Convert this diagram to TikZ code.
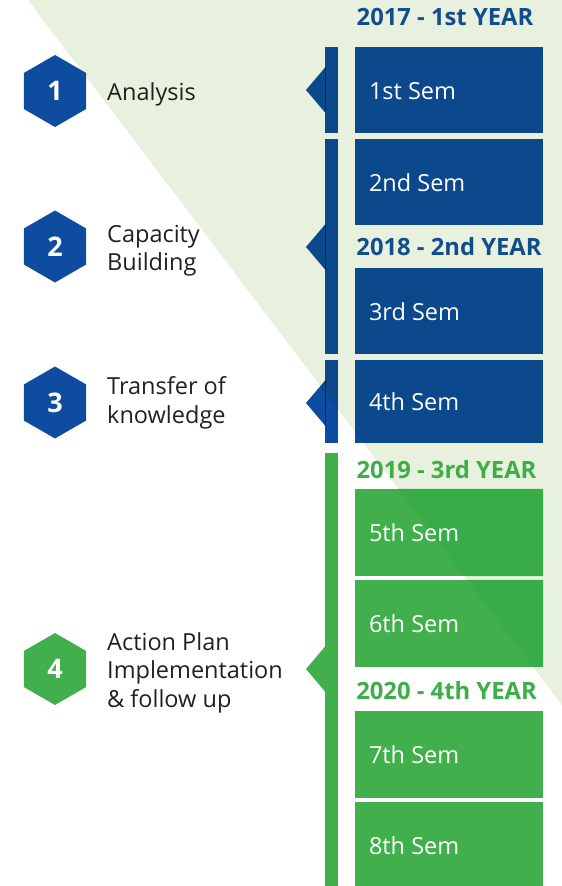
\documentclass[tikz,border=0pt]{standalone}
\usepackage{fontspec}
\setmainfont{Open Sans}
\usetikzlibrary{shapes.geometric}
\definecolor{tlblue}{RGB}{13,77,161}
\definecolor{hexblue}{RGB}{14,76,160}
\definecolor{tlgreen}{RGB}{64,175,76}
\definecolor{greendark}{RGB}{55,172,72}
\definecolor{yearblue}{RGB}{18,78,143}
\definecolor{yeargreen}{RGB}{62,174,73}
\definecolor{bglight}{RGB}{232,241,222}
\definecolor{txt}{RGB}{35,31,32}
\tikzset{
  hexa/.style={regular polygon, regular polygon sides=6, shape border rotate=30,
    minimum size=72pt, inner sep=0pt, text=white, font=\fontsize{27}{27}\selectfont\bfseries},
  lbl/.style={anchor=base west, inner sep=0pt, text=txt, align=left,
    font=\fontsize{23.5}{28.5}\selectfont},
  sembox/.style={rectangle, inner sep=0pt, minimum width=188pt},
  semtext/.style={anchor=base west, inner sep=0pt, text=white, font=\fontsize{23.5}{27}\selectfont},
  yeartext/.style={anchor=base, inner sep=0pt, font=\fontsize{23.8}{26}\selectfont\bfseries},
  barseg/.style={rectangle, inner sep=0pt, minimum width=13pt, anchor=north west}
}
\begin{document}
\begin{tikzpicture}[x=1pt,y=-1pt]
\useasboundingbox (0,0) rectangle (562,886);
\fill[bglight] (28,0) -- (562,0) -- (562,705) -- cycle;

\begin{scope}[blend mode=multiply]
% blue bars
\node[barseg, fill=tlblue, minimum height=86pt] (b1) at (325,47) {};
\node[barseg, fill=tlblue, minimum height=215pt] (b2) at (325,139) {};
\node[barseg, fill=tlblue, minimum height=83pt] (b3) at (325,360) {};
% blue pointers
\fill[tlblue] (306,90) -- (325.5,67) -- (325.5,113) -- cycle;
\fill[tlblue] (306,247) -- (325.5,224) -- (325.5,270) -- cycle;
\fill[tlblue] (306,403) -- (325.5,380) -- (325.5,426) -- cycle;
% blue semester boxes
\node[sembox, fill=tlblue, minimum height=86pt] (s1) at (449,90) {};
\node[sembox, fill=tlblue, minimum height=86pt] (s2) at (449,182) {};
\node[sembox, fill=tlblue, minimum height=86pt] (s3) at (449,311) {};
\node[sembox, fill=tlblue, minimum height=83pt] (s4) at (449,401.5) {};
\end{scope}

% green bar, pointer and boxes
\node[barseg, fill=tlgreen, minimum height=434pt] (b4) at (325,453) {};
\fill[tlgreen] (306,669) -- (325.5,646) -- (325.5,692) -- cycle;
\node[sembox, fill=tlgreen, minimum height=87pt] (s5) at (449,532.5) {};
\node[sembox, fill=tlgreen, minimum height=87pt] (s6) at (449,623.5) {};
\node[sembox, fill=tlgreen, minimum height=87pt] (s7) at (449,754.5) {};
\node[sembox, fill=tlgreen, minimum height=86pt] (s8) at (449,845) {};
\begin{scope}
\clip (s5.north west) rectangle (s5.south east) (s6.north west) rectangle (s6.south east);
\fill[greendark] (28,0) -- (562,0) -- (562,705) -- cycle;
\end{scope}

\node[semtext] (t1) at ([xshift=14pt,yshift=-9pt]s1.west) {1st Sem};
\node[semtext] (t2) at ([xshift=14pt,yshift=-9pt]s2.west) {2nd Sem};
\node[semtext] (t3) at ([xshift=14pt,yshift=-9pt]s3.west) {3rd Sem};
\node[semtext] (t4) at ([xshift=14pt,yshift=-9pt]s4.west) {4th Sem};
\node[semtext] (t5) at ([xshift=14pt,yshift=-9pt]s5.west) {5th Sem};
\node[semtext] (t6) at ([xshift=14pt,yshift=-9pt]s6.west) {6th Sem};
\node[semtext] (t7) at ([xshift=14pt,yshift=-9pt]s7.west) {7th Sem};
\node[semtext] (t8) at ([xshift=14pt,yshift=-9pt]s8.west) {8th Sem};

% year labels
\node[yeartext, text=yearblue] (y1) at (445,25) {2017 - 1st YEAR};
\node[yeartext, text=yearblue] (y2) at (449,255.5) {2018 - 2nd YEAR};
\node[yeartext, text=yeargreen] (y3) at (446.5,478) {2019 - 3rd YEAR};
\node[yeartext, text=yeargreen] (y4) at (446.5,699) {2020 - 4th YEAR};

% hexagons
\node[hexa, fill=hexblue] (h1) at (55,91) {1};
\node[hexa, fill=hexblue] (h2) at (55,246.5) {2};
\node[hexa, fill=hexblue] (h3) at (55,402.5) {3};
\node[hexa, fill=tlgreen] (h4) at (55,669) {4};

% step labels (base = last line)
\node[lbl] (l1) at (107,100) {Analysis};
\node[lbl] (l2) at (107,270.5) {Capacity\\Building};
\node[lbl] (l3) at (107,423) {Transfer of\\knowledge};
\node[lbl] (l4) at (107,707) {Action Plan\\Implementation\\\& follow up};
\end{tikzpicture}
\end{document}
